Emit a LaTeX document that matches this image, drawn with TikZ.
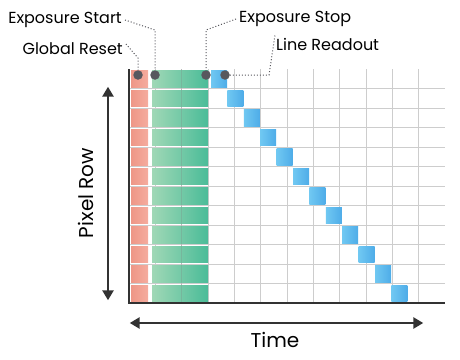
\documentclass[tikz,border=0pt]{standalone}
\usepackage{fontspec}
\setmainfont{Poppins}
\usetikzlibrary{arrows.meta,positioning}
\definecolor{axisgray}{RGB}{50,50,50}
\definecolor{dotgray}{RGB}{88,88,94}
\definecolor{gridgray}{RGB}{205,205,205}
\definecolor{resetA}{RGB}{238,150,134}
\definecolor{resetB}{RGB}{245,172,158}
\definecolor{expA}{RGB}{160,216,182}
\definecolor{expB}{RGB}{74,188,152}
\definecolor{readA}{RGB}{112,200,242}
\definecolor{readB}{RGB}{78,172,232}

\begin{document}
\begin{tikzpicture}[x=1pt,y=-1pt, every node/.style={inner sep=0pt},
  lbl/.style={font=\fontsize{16}{19}\selectfont},
  big/.style={font=\fontsize{20}{24}\selectfont},
  grid/.style={gridgray,line width=0.8pt},
  resetcell/.style={left color=resetA,right color=resetB},
  expcell/.style={left color=expA,right color=expB},
  readcell/.style={left color=readA,right color=readB},
  dot/.style={circle,fill=dotgray,minimum size=9.5pt},
  lead/.style={dotgray,dotted,line width=1pt},
  axis/.style={axisgray,line width=1.6pt},
  arr/.style={{Triangle[length=10pt,width=11pt]}-{Triangle[length=10pt,width=11pt]},axisgray,line width=2.6pt}]
\useasboundingbox (0,0) rectangle (460,359);
% grid
\foreach \i in {1,...,11}
  \draw[grid] (129,69+19.5*\i) -- (445,69+19.5*\i);
\foreach \j in {1,...,11}
  \draw[grid] (129+26.33*\j,69) -- (129+26.33*\j,303);
% rows
\foreach \i in {0,...,11} {
  \shade[resetcell] (131,70.8+19.5*\i) rectangle (148,87.2+19.5*\i);
  \shade[expcell] (152,70.8+19.5*\i) rectangle (208,87.2+19.5*\i);
  \shade[readcell] (211+16.4*\i,70.5+19.5*\i) rectangle (227+16.4*\i,87+19.5*\i);
}
\draw[gray,opacity=0.25,line width=0.8pt] (181.7,69) -- (181.7,303);
% axes
\coordinate (o) at (129,303);
\draw[axis] (129,69) -- (o) -- (445,303);
\node (rowtop) at (108,86) {};
\node (rowbot) at (108,301) {};
\draw[arr] (rowtop) -- (rowbot);
\node (tleft) at (129,323) {};
\node (tright) at (424,323) {};
\draw[arr] (tleft) -- (tright);
\node[big,rotate=90] (pr) at (86,193) {Pixel Row};
\node[big] (t) at (275,340) {Time};
% markers
\node[dot] (d1) at (138,75) {};
\node[dot] (d2) at (155,75) {};
\node[dot] (d3) at (206,75) {};
\node[dot] (d4) at (225,75) {};
\node[lbl,anchor=east] (es) at (122,20) {Exposure Start};
\node[lbl,anchor=east] (gr) at (123,49) {Global Reset};
\node[lbl,anchor=west] (ex) at (239,19) {Exposure Stop};
\node[lbl,anchor=west] (lr) at (276,44) {Line Readout};
\coordinate (c1) at (138,58);
\coordinate (c2) at (155,30);
\coordinate (c3) at (206,30);
\coordinate (c4) at (269,75);
\draw[lead] ([xshift=3pt,yshift=5pt]gr.east) -- (c1) -- (d1);
\draw[lead] ([xshift=3pt]es.east) -- (c2) -- (d2);
\draw[lead] ([xshift=-3pt]ex.west) -- (c3) -- (d3);
\draw[lead] (d4) -- (c4) -- ([xshift=-1pt,yshift=9pt]lr.west);
\end{tikzpicture}
\end{document}
